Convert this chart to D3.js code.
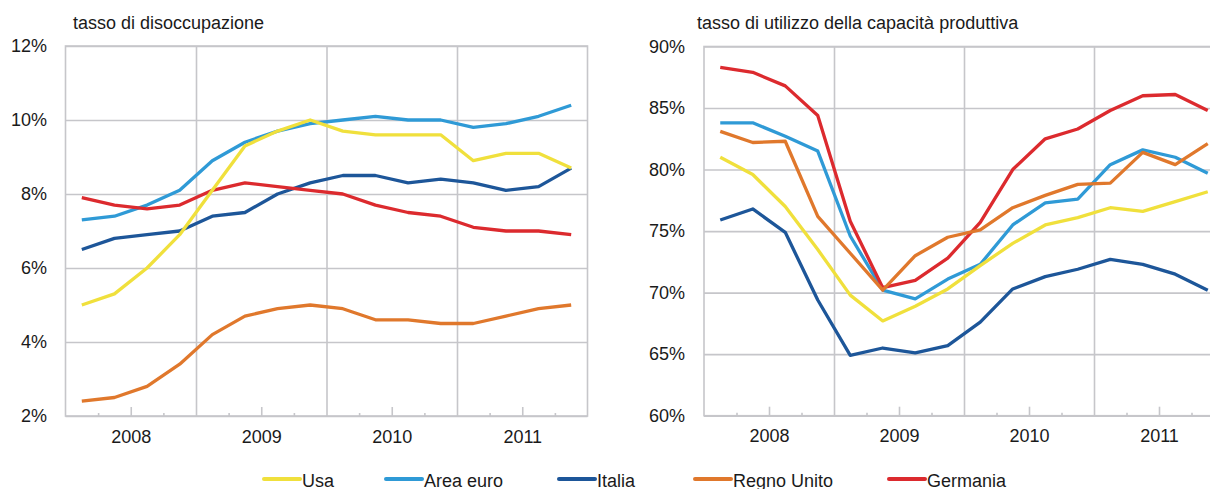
<!DOCTYPE html>
<html><head><meta charset="utf-8">
<script src="https://cdn.jsdelivr.net/npm/d3@7"></script>
<style>
body{margin:0;background:#fff}
svg{display:block}
text{font-family:"Liberation Sans",Arial,sans-serif;fill:#1a1a1a}
</style>
</head><body>
<svg id="c" width="1210" height="489"></svg>
<script>
// ---- data ----
const quarters = ["2008T1","2008T2","2008T3","2008T4","2009T1","2009T2","2009T3","2009T4",
                  "2010T1","2010T2","2010T3","2010T4","2011T1","2011T2","2011T3","2011T4"];
const years = ["2008","2009","2010","2011"];
const seriesNames = ["Usa","Area euro","Italia","Regno Unito","Germania"];
const seriesColors = ["#f0e03c","#2f9ad6","#1d5699","#e0782c","#dc2a2e"];

const titleLeft = "tasso di disoccupazione";
const titleRight = "tasso di utilizzo della capacità produttiva";
const ticksLeft = [2,4,6,8,10,12];
const ticksRight = [60,65,70,75,80,85,90];

// tasso di disoccupazione (%)
const usaU    = [5.0,5.3,6.0,6.9,8.1,9.3,9.7,10.0,9.7,9.6,9.6,9.6,8.9,9.1,9.1,8.7];
const euroU   = [7.3,7.4,7.7,8.1,8.9,9.4,9.7,9.9,10.0,10.1,10.0,10.0,9.8,9.9,10.1,10.4];
const italiaU = [6.5,6.8,6.9,7.0,7.4,7.5,8.0,8.3,8.5,8.5,8.3,8.4,8.3,8.1,8.2,8.7];
const ukU     = [2.4,2.5,2.8,3.4,4.2,4.7,4.9,5.0,4.9,4.6,4.6,4.5,4.5,4.7,4.9,5.0];
const gerU    = [7.9,7.7,7.6,7.7,8.1,8.3,8.2,8.1,8.0,7.7,7.5,7.4,7.1,7.0,7.0,6.9];

// tasso di utilizzo della capacità produttiva (%)
const usaC    = [81.0,79.6,77.0,73.5,69.8,67.7,68.9,70.3,72.2,74.0,75.5,76.1,76.9,76.6,77.4,78.2];
const euroC   = [83.8,83.8,82.7,81.5,74.6,70.2,69.5,71.1,72.3,75.5,77.3,77.6,80.4,81.6,81.0,79.7];
const italiaC = [75.9,76.8,74.9,69.4,64.9,65.5,65.1,65.7,67.6,70.3,71.3,71.9,72.7,72.3,71.5,70.2];
const ukC     = [83.1,82.2,82.3,76.2,73.2,70.2,73.0,74.5,75.1,76.9,77.9,78.8,78.9,81.4,80.4,82.1];
const gerC    = [88.3,87.9,86.8,84.4,75.8,70.4,71.0,72.8,75.7,80.0,82.5,83.3,84.8,86.0,86.1,84.8];

// ---- drawing ----
const svg = d3.select("#c");
svg.append("rect").attr("width",1210).attr("height",489).attr("fill","#fff");
const GRID = "#c6c6ca";
const drawOrder = [2,1,4,3,0];

function panel(cfg){
  const g = svg.append("g");
  const x = d3.scaleLinear().domain([0, quarters.length]).range([cfg.x0, cfg.x0 + cfg.w]);
  const y = d3.scaleLinear().domain(cfg.domain).range([cfg.y1, cfg.y0]);
  const h = cfg.y1 - cfg.y0;

  // horizontal gridlines
  g.append("g").attr("transform",`translate(${cfg.x0},0)`)
    .call(d3.axisLeft(y).tickValues(cfg.ticks).tickSize(-cfg.w).tickFormat(""))
    .call(s=>{s.select(".domain").remove(); s.selectAll("line").attr("stroke",GRID).attr("stroke-width",1.6);});

  // vertical gridlines at year boundaries
  const bounds = years.slice(1).map((d,i)=>(i+1)*4);
  g.append("g").attr("transform",`translate(0,${cfg.y1})`)
    .call(d3.axisBottom(x).tickValues(bounds).tickSize(h).tickSizeInner(-h).tickFormat(""))
    .call(s=>{s.select(".domain").remove(); s.selectAll("line").attr("stroke",GRID).attr("stroke-width",1.6);});

  // frame
  g.append("rect").attr("x",cfg.x0).attr("y",cfg.y0).attr("width",cfg.w).attr("height",h)
    .attr("fill","none").attr("stroke",GRID).attr("stroke-width",1.6);

  // minor quarter ticks
  const minor = d3.range(1, quarters.length, 2);
  g.append("g").attr("transform",`translate(0,${cfg.y1})`)
    .call(d3.axisBottom(x).tickValues(minor).tickSizeInner(-3).tickSizeOuter(0).tickFormat(""))
    .call(s=>{s.select(".domain").remove(); s.selectAll("line").attr("stroke",GRID).attr("stroke-width",1.6);});

  // year ticks + labels
  const mids = years.map((d,i)=>i*4+2);
  g.append("g").attr("transform",`translate(0,${cfg.y1})`)
    .call(d3.axisBottom(x).tickValues(mids).tickSizeInner(-9).tickSizeOuter(0).tickPadding(14)
      .tickFormat((d,i)=>years[i]))
    .call(s=>{s.select(".domain").remove(); s.selectAll("line").attr("stroke",GRID).attr("stroke-width",1.6);
      s.selectAll("text").attr("font-size",18).attr("font-family",null).attr("fill","#1a1a1a");});

  // y labels
  g.append("g").attr("transform",`translate(${cfg.x0},0)`)
    .call(d3.axisLeft(y).tickValues(cfg.ticks).tickSize(0).tickPadding(cfg.pad).tickFormat(d=>d+"%"))
    .call(s=>{s.select(".domain").remove();
      s.selectAll("text").attr("font-size",18).attr("font-family",null).attr("fill","#1a1a1a");});

  // title
  g.append("text").attr("x",cfg.tx).attr("y",29).attr("font-size",18).text(cfg.title);

  // lines
  const line = d3.line().x((d,i)=>x(i+0.5)).y(d=>y(d));
  drawOrder.forEach(k=>{
    g.append("path").datum(cfg.data[k]).attr("d",line)
      .attr("fill","none").attr("stroke",seriesColors[k]).attr("stroke-width",3.3)
      .attr("stroke-linejoin","round").attr("stroke-linecap","butt");
  });
}

panel({x0:65.5, w:522, y0:46, y1:416, domain:[2,12], ticks:ticksLeft, pad:18.5,
       tx:73, title:titleLeft, data:[usaU,euroU,italiaU,ukU,gerU]});
panel({x0:704, w:520, y0:46.5, y1:415.7, domain:[60,90], ticks:ticksRight, pad:19,
       tx:697, title:titleRight, data:[usaC,euroC,italiaC,ukC,gerC]});

// legend
const legendX = [264,386,559,695,889];
const lg = svg.append("g");
seriesNames.forEach((n,i)=>{
  lg.append("line").attr("x1",legendX[i]).attr("x2",legendX[i]+36).attr("y1",479).attr("y2",479)
    .attr("stroke",seriesColors[i]).attr("stroke-width",4).attr("stroke-linecap","round");
  lg.append("text").attr("x",legendX[i]+38).attr("y",486.5).attr("font-size",18).text(n);
});
</script>
</body></html>
